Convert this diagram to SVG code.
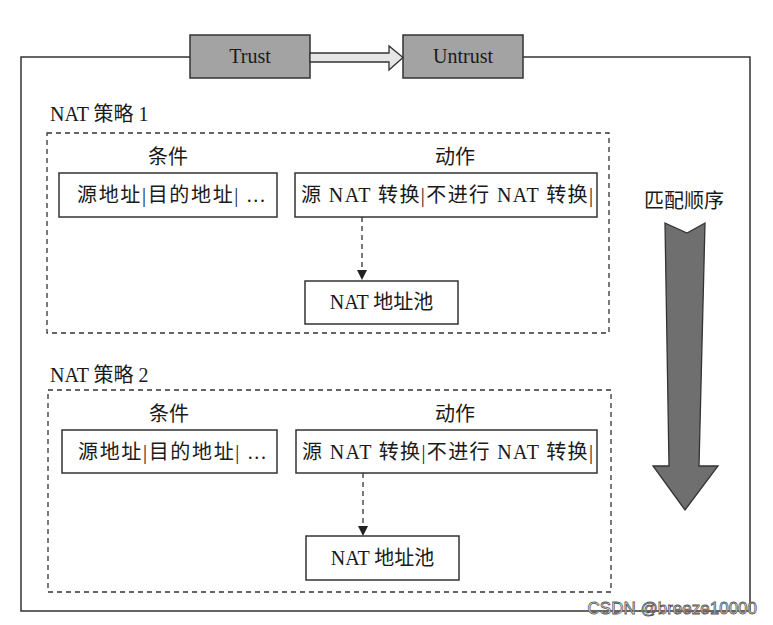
<svg xmlns="http://www.w3.org/2000/svg" width="773" height="625" viewBox="0 0 773 625">
<defs>
<style>
.t{font-family:"Liberation Serif","Noto Sans CJK SC",serif;fill:#1a1a1a;font-size:20px;}
.wm{font-family:"Liberation Sans","Noto Sans CJK SC",sans-serif;fill:#fff;stroke:#555;stroke-width:0.8;}
.box{fill:#fff;stroke:#333;stroke-width:1.5;}
.zone{fill:#a3a3a3;stroke:#333;stroke-width:1.5;}
.dash{fill:none;stroke:#333;stroke-width:1.3;stroke-dasharray:5,4;}
.conn{fill:none;stroke:#333;stroke-width:1.3;stroke-dasharray:5,4;}
</style>
<marker id="ah" viewBox="0 0 10 10" refX="10" refY="5" markerWidth="10" markerHeight="10" markerUnits="userSpaceOnUse" orient="auto">
<path d="M0,0 L10,5 L0,10 Z" fill="#222"/>
</marker>
</defs>
<rect width="773" height="625" fill="#fff"/>
<g id="frame">
<path d="M190,57 L21,57 L21,611 L750,611 L750,57 L523,57" fill="none" stroke="#333" stroke-width="1.5"/>
</g>
<g id="trust">
<rect class="zone" x="190" y="35" width="120" height="43"/>
<text class="t" x="250" y="63" text-anchor="middle">Trust</text>
</g>
<g id="untrust">
<rect class="zone" x="403" y="35" width="120" height="43"/>
<text class="t" x="463" y="63" text-anchor="middle">Untrust</text>
</g>
<g id="connectors">
<path d="M310,53 L389,53 L389,46 L403,57.5 L389,70 L389,62 L310,62 Z" fill="#e6e6e6" stroke="#333" stroke-width="1.3"/>
<line class="conn" x1="362" y1="217" x2="362" y2="280" marker-end="url(#ah)"/>
<line class="conn" x1="363" y1="473" x2="363" y2="536" marker-end="url(#ah)"/>
</g>
<g id="policy1">
<text class="t" x="50" y="121">NAT 策略 1</text>
<rect class="dash" x="47" y="133" width="562" height="200"/>
<text class="t" x="168" y="164" text-anchor="middle">条件</text>
<text class="t" x="455" y="164" text-anchor="middle">动作</text>
</g>
<g id="cond1">
<rect class="box" x="59" y="173" width="218" height="44"/>
<text class="t" x="77" y="202" textLength="188" lengthAdjust="spacing">源地址|目的地址| ...</text>
</g>
<g id="action1">
<rect class="box" x="295" y="173" width="302" height="44"/>
<text class="t" x="301" y="202" textLength="292" lengthAdjust="spacing">源 NAT 转换|不进行 NAT 转换|</text>
</g>
<g id="pool1">
<rect class="box" x="305" y="281" width="153" height="43"/>
<text class="t" x="381.5" y="309" text-anchor="middle">NAT 地址池</text>
</g>
<g id="policy2">
<text class="t" x="50" y="382">NAT 策略 2</text>
<rect class="dash" x="48" y="390" width="563" height="202"/>
<text class="t" x="169" y="421" text-anchor="middle">条件</text>
<text class="t" x="455" y="421" text-anchor="middle">动作</text>
</g>
<g id="cond2">
<rect class="box" x="62" y="430" width="215" height="43"/>
<text class="t" x="78" y="459" textLength="188" lengthAdjust="spacing">源地址|目的地址| ...</text>
</g>
<g id="action2">
<rect class="box" x="296" y="430" width="301" height="43"/>
<text class="t" x="302" y="459" textLength="291" lengthAdjust="spacing">源 NAT 转换|不进行 NAT 转换|</text>
</g>
<g id="pool2">
<rect class="box" x="306" y="536" width="153" height="44"/>
<text class="t" x="382.5" y="565" text-anchor="middle">NAT 地址池</text>
</g>
<g id="order">
<text class="t" x="684" y="208" text-anchor="middle">匹配顺序</text>
<path d="M665,223 L687,233 L705,223 L699,466 L718,466 L685,510 L653,466 L669,466 Z" fill="#6f6f6f" stroke="#333" stroke-width="1.3"/>
</g>
<text class="wm" x="757" y="614" font-size="17" text-anchor="end">CSDN @breeze10000</text>
</svg>
